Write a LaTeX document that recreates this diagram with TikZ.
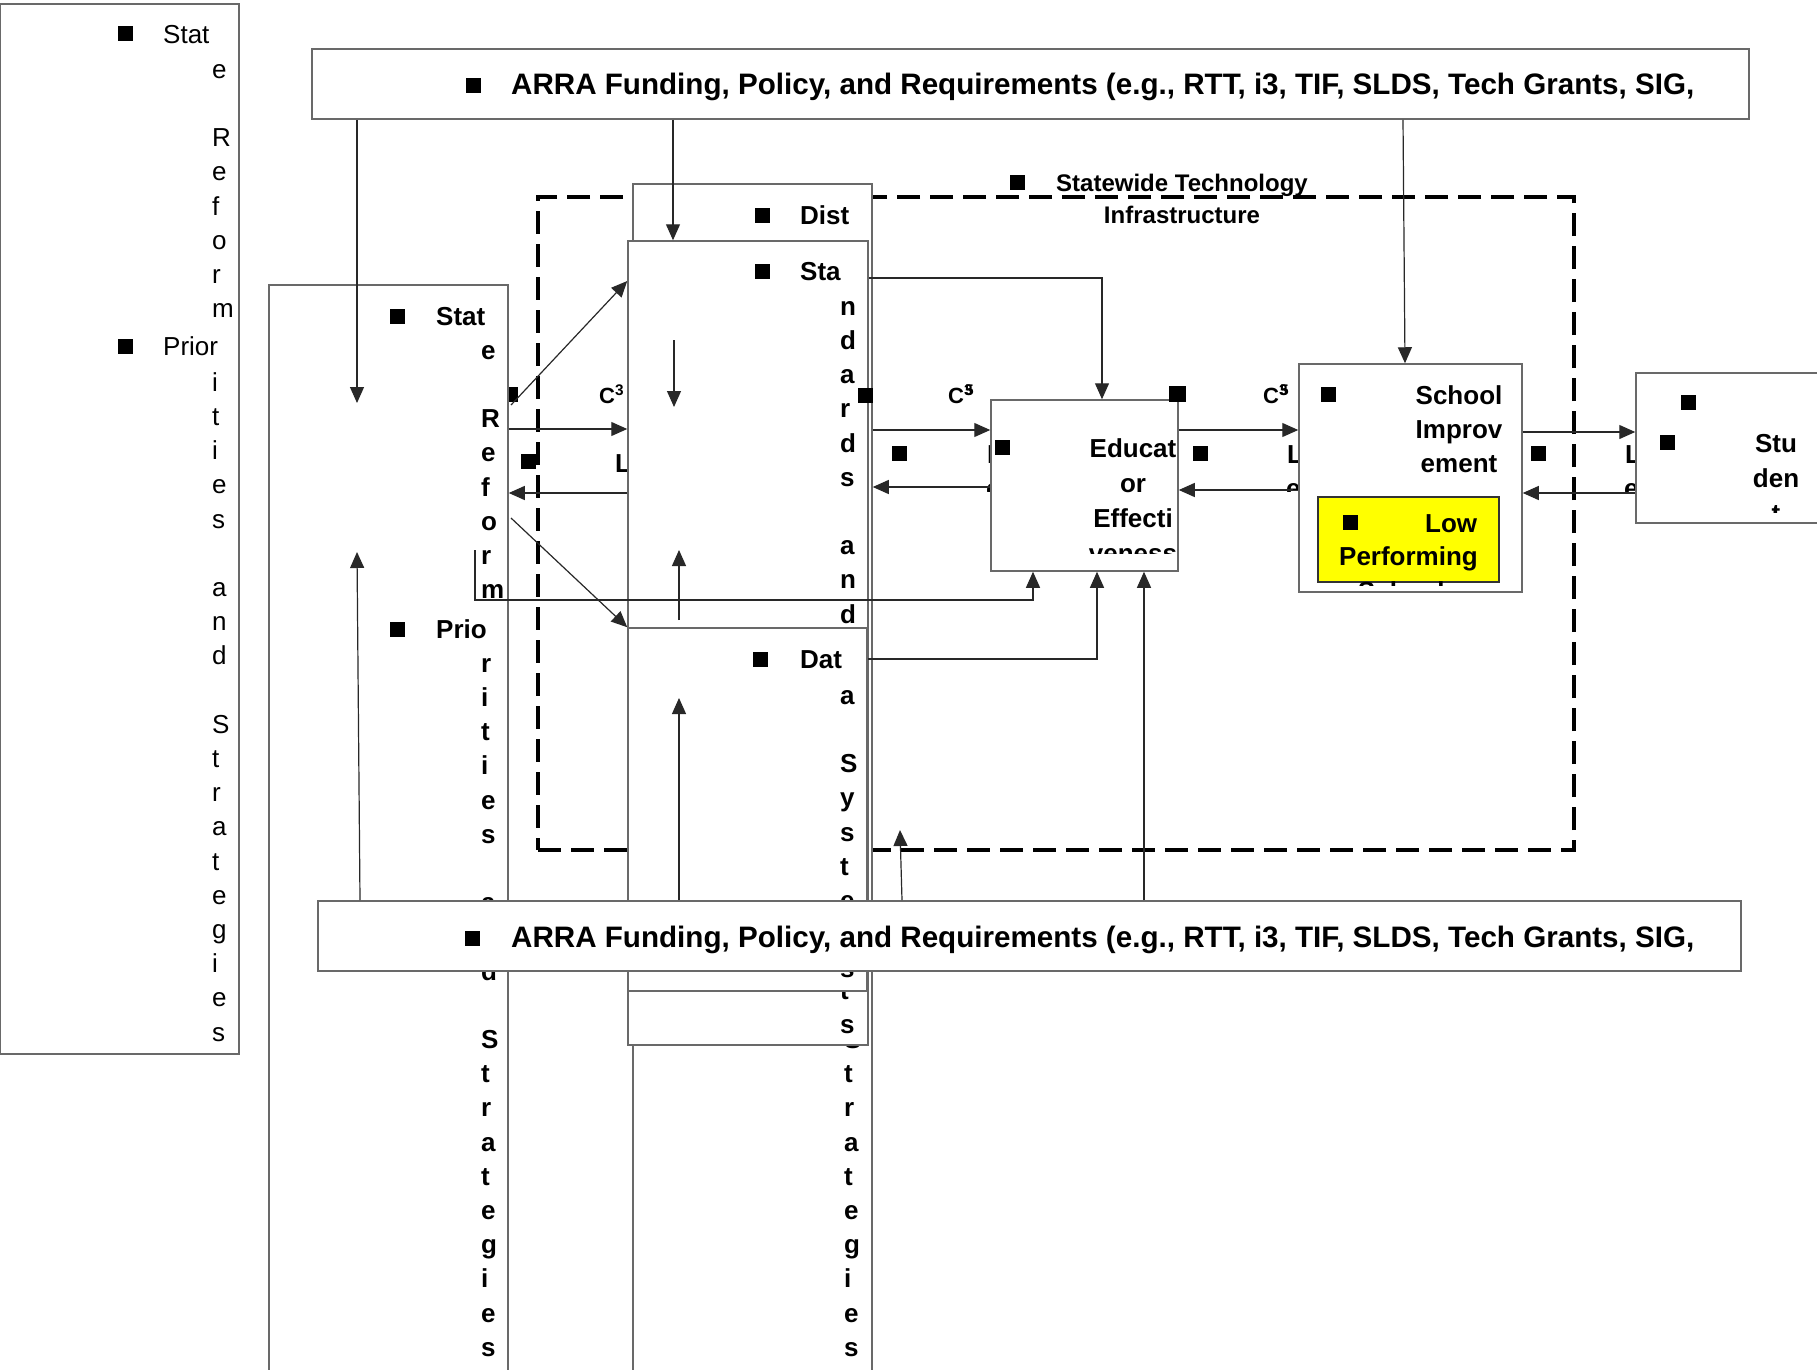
\documentclass[tikz,border=0pt]{standalone}
\usepackage{fontspec}
\setmainfont{Liberation Sans}
\usetikzlibrary{arrows.meta}
\definecolor{framegray}{RGB}{105,105,105}
\definecolor{wiregray}{RGB}{40,40,40}
\definecolor{lowyellow}{RGB}{255,255,0}

\begin{document}
\begin{tikzpicture}[
    x=1pt, y=-1pt,
    panel/.style={rectangle, draw=framegray, fill=white, line width=1.5pt, inner sep=0pt},
    infraframe/.style={rectangle, draw=black, line width=3.2pt, dash pattern=on 23pt off 10pt, inner sep=0pt},
    bullet/.style={rectangle, fill=black, inner sep=0pt, minimum width=15pt, minimum height=15pt},
    boldtxt/.style={font=\bfseries\fontsize{26}{34}\selectfont, inner sep=0pt, anchor=base west},
    plaintxt/.style={font=\fontsize{26}{33}\selectfont, inner sep=0pt, anchor=base west},
    boxtxt/.style={font=\bfseries\fontsize{26}{35}\selectfont, inner sep=0pt, anchor=base},
    arratxt/.style={font=\bfseries\fontsize{29.6}{34}\selectfont, inner sep=0pt, anchor=base west},
    infratxt/.style={font=\bfseries\fontsize{24}{33}\selectfont, inner sep=0pt, anchor=base},
    ctag/.style={font=\bfseries\fontsize{22}{22}\selectfont, inner sep=0pt, anchor=base west},
    wire/.style={draw=wiregray, line width=1.2pt},
    arrow/.style={wire, -{Triangle[length=16pt, width=14pt]}}
]
    \useasboundingbox (0,0) rectangle (1817,1370);

    % State reform (left)
    \node[panel, minimum width=239pt, minimum height=1050pt] (srleft) at (119.5,529) {};
    \node[bullet] (srleft-b1) at (125,34) {};
    \node[plaintxt] (srleft-w1) at (163,44) {Stat};
    \foreach \ch [count=\k] in {e,{},R,e,f,o,r,m}
        \node[plaintxt] (srleft-a\k) at (212,44+34.2*\k) {\ch};
    \node[bullet] (srleft-b2) at (125,346) {};
    \node[plaintxt] (srleft-w2) at (163,355) {Prior};
    \foreach \ch [count=\k] in {i,t,i,e,s,{},a,n,d,{},S,t,r,a,t,e,g,i,e,s}
        \node[plaintxt] (srleft-p\k) at (212,357+34.2*\k) {\ch};

    % Statewide technology infrastructure
    \node[infraframe, minimum width=1036pt, minimum height=653pt] (infra) at (1056,523.5) {};
    \node[bullet] (infra-b) at (1017,182) {};
    \node[infratxt] (infra-t1) at (1182,191) {Statewide Technology};
    \node[infratxt] (infra-t2) at (1182,223) {Infrastructure};

    % Link labels under the boxes
    \node[bullet] (gapa-b1) at (510,394) {};
    \begin{scope}
        \clip (590,440) rectangle (1660,491);
        \node[boldtxt] (gapa-l) at (615,472) {L};
        \node[boldtxt] (gapb-l) at (987,463) {L};
        \node[boldtxt] (gapb-e) at (986,497) {e};
        \node[boldtxt] (gapc-l) at (1287,463) {L};
        \node[boldtxt] (gapc-e) at (1286,497) {e};
        \node[boldtxt] (gapd-l) at (1625,463) {L};
        \node[boldtxt] (gapd-e) at (1624,497) {e};
    \end{scope}

    % State reform (middle)
    \node[panel, minimum width=239pt, minimum height=1115pt] (srmid) at (388.5,842.5) {};
    \node[bullet] (srmid-b1) at (397,316) {};
    \node[boldtxt] (srmid-w1) at (436,325) {Stat};
    \foreach \ch [count=\k] in {e,{},R,e,f,o,r,m}
        \node[boldtxt] (srmid-a\k) at (481,325+34.2*\k) {\ch};
    \node[bullet] (srmid-b2) at (397,629) {};
    \node[boldtxt] (srmid-w2) at (436,638) {Prio};
    \foreach \ch [count=\k] in {r,i,t,i,e,s,{},a,n,d,{},S,t,r,a,t,e,g,i,e,s}
        \node[boldtxt] (srmid-p\k) at (481,638+34.2*\k) {\ch};

    % District
    \node[panel, minimum width=239pt, minimum height=1216pt] (dist) at (752.5,792) {};
    \node[bullet] (dist-b1) at (762,215) {};
    \node[boldtxt] (dist-w1) at (800,224) {Dist};
    \foreach \ch [count=\k] in {r,i,c,t,{},R,e,f,o,r,m}
        \node[boldtxt] (dist-a\k) at (844,224+34.2*\k) {\ch};
    \node[bullet] (dist-b2) at (762,629) {};
    \node[boldtxt] (dist-w2) at (800,638) {Prio};
    \foreach \ch [count=\k] in {r,i,t,i,e,s,{},a,n,d,{},S,t,r,a,t,e,g,i,e,s}
        \node[boldtxt] (dist-p\k) at (844,638+34.2*\k) {\ch};

    % Standards
    \node[panel, minimum width=240pt, minimum height=804pt] (sta) at (748,643) {};
    \node[bullet] (sta-b1) at (762,271) {};
    \node[boldtxt] (sta-w1) at (800,280) {Sta};
    \foreach \ch [count=\k] in {n,d,a,r,d,s,{},a,n,d,{},A,s,s,e,s,s,m,e,n,t,s}
        \node[boldtxt] (sta-a\k) at (840,281+34.2*\k) {\ch};

    % Data
    \node[panel, minimum width=239pt, minimum height=363pt] (data) at (747.5,809.5) {};
    \node[bullet] (data-b1) at (760,659) {};
    \node[boldtxt] (data-w1) at (800,668) {Dat};
    \foreach \ch [count=\k] in {a,{},S,y,s,t,e,m,s}
        \node[boldtxt] (data-a\k) at (840,670+34.2*\k) {\ch};

    % Educator
    \node[panel, minimum width=187pt, minimum height=171pt] (educ) at (1084.5,485.5) {};
    \node[bullet] (educ-b) at (1002,447) {};
    \begin{scope}
        \clip (educ.north west) rectangle (1178,553);
        \foreach \w [count=\k] in {Educat,or,Effecti,veness}
            \node[boxtxt] (educ-t\k) at (1133,422+35*\k) {\w};
    \end{scope}

    % School improvement
    \node[panel, minimum width=223pt, minimum height=228pt] (school) at (1410.5,478) {};
    \node[bullet] (school-b) at (1328,394) {};
    \foreach \w [count=\k] in {School,Improv,ement}
        \node[boxtxt] (school-t\k) at (1459,370+34*\k) {\w};
    \node[rectangle, draw=black!80, fill=lowyellow, line width=1.5pt, minimum width=181pt, minimum height=85pt] (lowperf) at (1408.5,539.5) {};
    \node[bullet] (lowperf-b) at (1350,522) {};
    \node[boldtxt] (lowperf-t1) at (1425,532) {Low};
    \begin{scope}
        \clip (1310,540) rectangle (1510,585);
        \node[boxtxt] (lowperf-t2) at (1408.5,565) {Performing};
        \node[boxtxt] (lowperf-t3) at (1408.5,600) {Schools};
    \end{scope}

    % Student
    \node[panel, minimum width=204pt, minimum height=150pt] (student) at (1738,448) {};
    \node[bullet] (student-b1) at (1688,402) {};
    \node[bullet] (student-b2) at (1667,442) {};
    \begin{scope}
        \clip (1640,380) rectangle (1817,512);
        \foreach \w [count=\k] in {Stu,den,t}
            \node[boxtxt] (student-t\k) at (1776,417+35*\k) {\w};
    \end{scope}

    % Link labels over the boxes
    \node[bullet] (gapa-b2) at (528,461) {};
    \node[ctag] (gapa-c) at (599,403) {C\textsuperscript{3}};
    \node[bullet] (gapb-b1) at (865,395) {};
    \node[bullet] (gapb-b2) at (899,453) {};
    \node[ctag] (gapb-c) at (948,403) {C\textsuperscript{3}};
    \node[ctag] (gapb-c5) at (949,403) {\phantom{C}\textsuperscript{5}};
    \node[bullet, minimum width=17pt, minimum height=16pt] (gapc-b1) at (1177,394) {};
    \node[bullet] (gapc-b2) at (1200,453) {};
    \node[ctag] (gapc-c) at (1263,403) {C\textsuperscript{3}};
    \node[ctag] (gapc-c5) at (1264,403) {\phantom{C}\textsuperscript{5}};
    \node[bullet] (gapd-b) at (1538,453) {};

    % ARRA funding
    \node[panel, line width=1.8pt, minimum width=1437pt, minimum height=70pt] (arratop) at (1030.5,84) {};
    \node[bullet] (arratop-b) at (473,86) {};
    \node[arratxt] (arratop-t) at (511,95) {ARRA Funding, Policy, and Requirements (e.g., RTT, i3, TIF, SLDS, Tech Grants, SIG,};
    \node[panel, line width=1.8pt, minimum width=1423pt, minimum height=70pt] (arrabot) at (1029.5,936) {};
    \node[bullet] (arrabot-b) at (472,938) {};
    \node[arratxt] (arrabot-t) at (511,947) {ARRA Funding, Policy, and Requirements (e.g., RTT, i3, TIF, SLDS, Tech Grants, SIG,};

    % Arrows from the top
    \coordinate (srmid-top) at (357,403);
    \draw[arrow] (arratop.south -| srmid-top) -- (srmid-top);
    \draw[arrow] (arratop.south -| 673,0) -- (sta.north -| 673,0);
    \draw[arrow] (arratop.south -| 1403,0) -- (school.north -| 1405,0);

    % Arrows from the bottom
    \coordinate (srmid-up) at (357,552);
    \draw[arrow] (arrabot.north -| 360,0) -- (srmid-up);
    \coordinate (data-up) at (679,698);
    \draw[arrow] (arrabot.north -| data-up) -- (data-up);
    \coordinate (infra-up) at (900,830);
    \draw[arrow] (arrabot.north -| 902,0) -- (infra-up);
    \draw[arrow] (arrabot.north -| 1144,0) -- (educ.south -| 1144,0);

    % Inside standards
    \coordinate (sta-d1) at (674,340);
    \coordinate (sta-d2) at (674,407);
    \draw[arrow] (sta-d1) -- (sta-d2);
    \coordinate (sta-u1) at (679,620);
    \coordinate (sta-u2) at (679,550);
    \draw[arrow] (sta-u1) -- (sta-u2);

    % State <-> standards and data
    \coordinate (srmid-d1) at (511,405);
    \draw[arrow] (srmid-d1) -- (sta.west |- 0,281);
    \draw[arrow] (srmid.east |- 0,429) -- (sta.west |- 0,429);
    \draw[arrow] (sta.west |- 0,493) -- (srmid.east |- 0,493);
    \coordinate (srmid-d2) at (511,518);
    \draw[arrow] (srmid-d2) -- (data.north west);
    \coordinate (srmid-r) at (475,550);
    \draw[arrow] (srmid-r) -- ++(0,50) -| (educ.south -| 1033,0);

    % Standards, data <-> educator
    \draw[arrow] (sta.east |- 0,278) -| (educ.north -| 1102,0);
    \draw[arrow] (dist.east |- 0,430) -- (educ.west |- 0,430);
    \draw[arrow] (educ.west |- 0,487) -- (dist.east |- 0,487);
    \draw[arrow] (data.east |- 0,659) -| (educ.south -| 1097,0);

    % Educator <-> school
    \draw[arrow] (educ.east |- 0,430) -- (school.west |- 0,430);
    \coordinate (school-l) at (1293,490);
    \draw[arrow] (school-l) -- (educ.east |- school-l);

    % School <-> student
    \draw[arrow] (school.east |- 0,432) -- (student.west |- 0,432);
    \draw[arrow] (student.west |- 0,493) -- (school.east |- 0,493);
\end{tikzpicture}
\end{document}
